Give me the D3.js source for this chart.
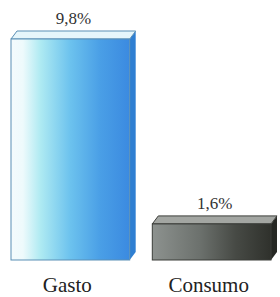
<!DOCTYPE html>
<html>
<head>
<meta charset="utf-8">
<script src="https://cdn.jsdelivr.net/npm/d3@7"></script>
<style>
  body { margin: 0; background: #fff; }
  svg { display: block; }
</style>
</head>
<body>
<script>
var categories = ['Gasto', 'Consumo'];
var values = [9.8, 1.6];
var valueLabels = ['9,8%', '1,6%'];

var width = 280, height = 297;
var depthX = 6, depthY = 8;

var svg = d3.select('body').append('svg')
    .attr('width', width)
    .attr('height', height);

var defs = svg.append('defs');

// front gradients
var g1 = defs.append('linearGradient').attr('id', 'front0');
g1.append('stop').attr('offset', '0%').attr('stop-color', '#f4fbfd');
g1.append('stop').attr('offset', '10%').attr('stop-color', '#eefafc');
g1.append('stop').attr('offset', '25%').attr('stop-color', '#aeeaf2');
g1.append('stop').attr('offset', '50%').attr('stop-color', '#6cc2ee');
g1.append('stop').attr('offset', '75%').attr('stop-color', '#4a9fe6');
g1.append('stop').attr('offset', '100%').attr('stop-color', '#3b8ae0');

var g2 = defs.append('linearGradient').attr('id', 'front1');
g2.append('stop').attr('offset', '0%').attr('stop-color', '#8d928f');
g2.append('stop').attr('offset', '40%').attr('stop-color', '#6c716d');
g2.append('stop').attr('offset', '70%').attr('stop-color', '#474a45');
g2.append('stop').attr('offset', '100%').attr('stop-color', '#2f312c');

var topColors = ['#e6f6fb', '#a3a6a2'];
var sideColors = ['#2f7fd2', '#262824'];
var edgeColors = ['#5a8fb5', '#3b3d39'];

var x = d3.scaleBand()
    .domain(categories)
    .range([11, 271])
    .paddingInner(0.16);

var y = d3.scaleLinear()
    .domain([0, 9.8])
    .range([260, 39]);

var bars = svg.selectAll('g.bar')
    .data(categories)
    .enter().append('g')
    .attr('class', 'bar');

// right side face
bars.append('path')
    .attr('fill', (d, i) => sideColors[i])
    .attr('d', (d, i) => {
        var x1 = x(d) + x.bandwidth();
        var yt = y(values[i]), yb = y(0);
        return 'M' + x1 + ',' + yt + 'L' + (x1 + depthX) + ',' + (yt - depthY) +
            'L' + (x1 + depthX) + ',' + (yb - depthY) + 'L' + x1 + ',' + yb + 'Z';
    });

// top face
bars.append('path')
    .attr('fill', (d, i) => topColors[i])
    .attr('stroke', (d, i) => edgeColors[i])
    .attr('stroke-width', 1)
    .attr('d', (d, i) => {
        var x0 = x(d), x1 = x(d) + x.bandwidth();
        var yt = y(values[i]);
        return 'M' + x0 + ',' + yt + 'L' + (x0 + depthX) + ',' + (yt - depthY) +
            'L' + (x1 + depthX) + ',' + (yt - depthY) + 'L' + x1 + ',' + yt + 'Z';
    });

// front face
bars.append('rect')
    .attr('x', d => x(d))
    .attr('y', (d, i) => y(values[i]))
    .attr('width', x.bandwidth())
    .attr('height', (d, i) => y(0) - y(values[i]))
    .attr('fill', (d, i) => 'url(#front' + i + ')')
    .attr('stroke', (d, i) => edgeColors[i])
    .attr('stroke-width', 1);

// value labels
bars.append('text')
    .attr('x', d => x(d) + x.bandwidth() / 2 + 3)
    .attr('y', (d, i) => y(values[i]) - depthY - 7)
    .attr('text-anchor', 'middle')
    .attr('font-family', 'Liberation Serif, serif')
    .attr('font-size', 17)
    .attr('fill', '#333')
    .text((d, i) => valueLabels[i]);

// category axis labels
svg.selectAll('text.cat')
    .data(categories)
    .enter().append('text')
    .attr('class', 'cat')
    .attr('x', d => x(d) + x.bandwidth() / 2 - 3)
    .attr('y', 292)
    .attr('text-anchor', 'middle')
    .attr('font-family', 'Liberation Serif, serif')
    .attr('font-size', 21)
    .attr('fill', '#222')
    .text(d => d);
</script>
</body>
</html>
